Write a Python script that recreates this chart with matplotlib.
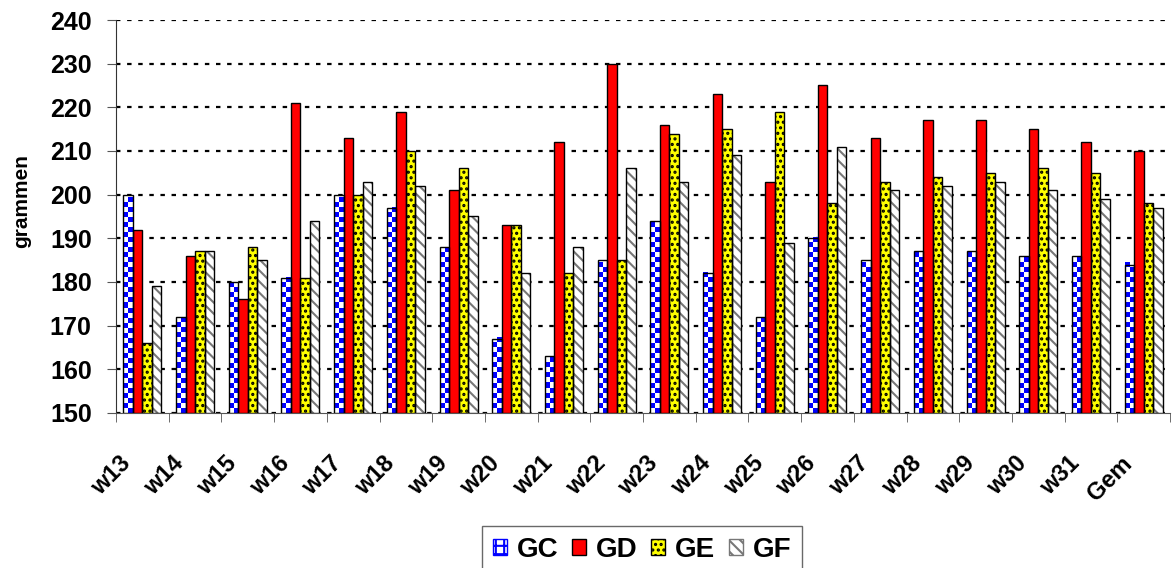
import numpy as np
import matplotlib.pyplot as plt
from matplotlib.patches import Patch
from matplotlib.colors import ListedColormap
from matplotlib.transforms import ScaledTranslation

weeks = ["w13", "w14", "w15", "w16", "w17", "w18", "w19", "w20", "w21", "w22",
         "w23", "w24", "w25", "w26", "w27", "w28", "w29", "w30", "w31", "Gem"]
gc = [200, 172, 180, 181, 200, 197, 188, 167, 163, 185, 194, 182, 172, 190, 185, 187, 187, 186, 186, 184]
gd = [192, 186, 176, 221, 213, 219, 201, 193, 212, 230, 216, 223, 203, 225, 213, 217, 217, 215, 212, 210]
ge = [166, 187, 188, 181, 200, 210, 206, 193, 182, 185, 214, 215, 219, 198, 203, 204, 205, 206, 205, 198]
gf = [179, 187, 185, 194, 203, 202, 195, 182, 188, 206, 203, 209, 189, 211, 201, 202, 203, 201, 199, 197]

series = [
    ("GC", gc, "white", "#0000ff", None),
    ("GD", gd, "#ff0000", "#ff0000", None),
    ("GE", ge, "#ffff00", "black", "..."),
    ("GF", gf, "white", "#777777", "\\\\\\"),
]

plt.rcParams['font.family'] = 'Liberation Sans'
plt.rcParams['font.weight'] = 'bold'
plt.rcParams['hatch.linewidth'] = 1.5

fig = plt.figure(figsize=(11.76, 5.68), dpi=100)
ax = fig.add_axes([116 / 1176, 1 - 413 / 568, (1170 - 116) / 1176, (413 - 20) / 568])

checker_cmap = ListedColormap(["white", "#0000ff"])

x = np.arange(len(weeks))
w = 0.18
handles = []
for i, (name, vals, face, hcol, hatch) in enumerate(series):
    pos = x + (i - 1.5) * w
    base = 150
    h = [v - base for v in vals]
    bars = ax.bar(pos, h, w, bottom=base, color=face, edgecolor=hcol, hatch=hatch, linewidth=0, zorder=3)
    if name == "GC":
        # blue/white checkerboard inside each bar
        for b in bars:
            bx, by = b.get_x(), b.get_y()
            bh = b.get_height()
            nrows = max(1, int(round(bh / 1.15)))
            cells = (np.add.outer(np.arange(nrows), np.arange(2)) % 2)
            ax.imshow(cells, cmap=checker_cmap, extent=(bx, bx + w, by, by + nrows * 1.15),
                      origin="lower", aspect="auto", interpolation="nearest",
                      clip_path=b, zorder=3.5)
    ax.bar(pos, h, w, bottom=base, fill=False, edgecolor="black", linewidth=1.0, zorder=4)
    if name == "GC":
        handles.append(Patch(facecolor="white", edgecolor="#0000ff", hatch="++", label=name))
    else:
        handles.append(Patch(facecolor=face, edgecolor=hcol if hatch else "black", hatch=hatch, label=name))

ax.set_xlim(-0.5, len(weeks) - 0.5)
ax.set_ylim(150, 240)
ax.set_yticks(np.arange(150, 241, 10))
ax.yaxis.grid(True, color="black", linestyle=(0, (2, 3)), linewidth=1.6, zorder=0)
ax.set_axisbelow(True)

ax.set_xticks(x)
ax.set_xticklabels(weeks, rotation=45, ha="right", va="top", rotation_mode="anchor",
                   fontsize=17, fontweight="bold")
ax.tick_params(axis="x", length=0, pad=28)
shift = ScaledTranslation(-23 / 100, 0, fig.dpi_scale_trans)
for lab in ax.get_xticklabels():
    lab.set_transform(lab.get_transform() + shift)
ax.set_xticks(np.arange(-0.5, len(weeks), 1), minor=True)
ax.tick_params(axis="x", which="minor", length=6.5, color="#555555")
ax.tick_params(axis="y", labelsize=18, length=6.5, color="#555555", pad=11)
for lab in ax.get_yticklabels():
    lab.set_fontweight("bold")

ax.spines["top"].set_visible(False)
ax.spines["right"].set_visible(False)
ax.spines["left"].set_color("#333333")
ax.spines["bottom"].set_color("#555555")

fig.text(22 / 1176, 1 - 201 / 568, "grammen", rotation=90, ha="center", va="center",
         fontsize=15, fontweight="bold")

leg = fig.legend(handles=handles, loc="upper center", bbox_to_anchor=(642 / 1176, 1 - 526 / 568), ncol=4,
                 fontsize=20, frameon=True, fancybox=False, edgecolor="#444444",
                 handlelength=0.5, handleheight=0.5, handletextpad=0.35, columnspacing=0.5,
                 borderpad=0.4, borderaxespad=0)
leg.get_frame().set_linewidth(1.0)
for t in leg.get_texts():
    t.set_fontweight("bold")

fig.savefig("out.png", dpi=100)
